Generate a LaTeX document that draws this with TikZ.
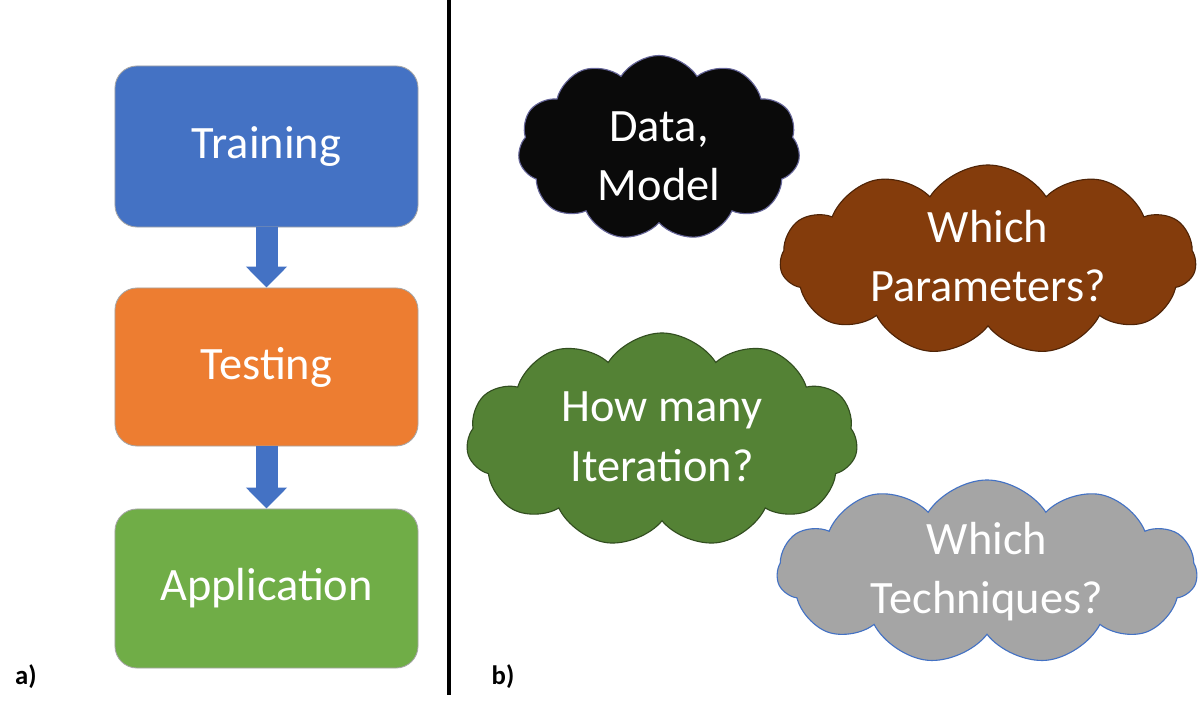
\documentclass[tikz,border=0pt]{standalone}
\usepackage{fontspec}
\setmainfont{Carlito}
\usetikzlibrary{shapes.symbols,arrows.meta}
\definecolor{cblue}{HTML}{4472C4}
\definecolor{corange}{HTML}{ED7D31}
\definecolor{cgreen}{HTML}{70AD47}
\definecolor{cblack}{HTML}{0A0A0A}
\definecolor{cbrown}{HTML}{843C0C}
\definecolor{cdgreen}{HTML}{548235}
\definecolor{cgray}{HTML}{A5A5A5}
\tikzset{
  stagebox/.style={rectangle, rounded corners=0.55cm, minimum width=7.575cm, draw=gray!70, line width=0.6pt, text=white, font=\fontsize{33}{43}\selectfont, inner sep=0pt},
  flowarrow/.style={draw=cblue, line width=0.55cm, -{Triangle[width=1cm,length=0.525cm]}, shorten >=0pt},
  cloudbox/.style={cloud, cloud puffs=11, cloud puff arc=115, cloud ignores aspect, draw=#1, line width=0.8pt, inner sep=0pt},
  cloudtext/.style={text=white, align=center, font=\fontsize{33}{42}\selectfont},
  panellabel/.style={font=\bfseries\fontsize{19}{21}\selectfont, text=black}
}
\begin{document}
\begin{tikzpicture}[x=0.025cm,y=-0.025cm]
\useasboundingbox (0,0) rectangle (1200,701);
\fill[white] (0,0) rectangle (1200,701);
% left panel
\node[stagebox, fill=cblue, minimum height=4.025cm] (train) at (266.5,146.5) {Training};
\node[stagebox, fill=corange, minimum height=3.95cm] (test) at (266.5,367) {Testing};
\node[stagebox, fill=cgreen, minimum height=3.975cm] (app) at (266.5,588.5) {Application};
\draw[flowarrow] (train.south) -- (test.north);
\draw[flowarrow] (test.south) -- (app.north);
\node[panellabel] (la) at (26,677) {a)};
% divider
\coordinate (dtop) at (449,0);
\coordinate (dbot) at (449,695);
\draw[line width=0.1cm, black] (dtop) -- (dbot);
\node[panellabel] (lb) at (503,677) {b)};
% right panel clouds
\node[cloudbox=gray!80!blue, fill=cblack, minimum width=7.05cm, minimum height=4.625cm,
  label={[cloudtext, yshift=-0.2cm]center:Data,\\Model}] (data) at (659,148) {};
\node[cloudbox=cbrown!60!black, fill=cbrown, minimum width=10.4cm, minimum height=4.75cm,
  label={[cloudtext, yshift=0.1cm]center:Which\\Parameters?}] (params) at (988,260) {};
\node[cloudbox=cdgreen!60!black, fill=cdgreen, minimum width=9.78cm, minimum height=5.35cm,
  label={[cloudtext, yshift=0.08cm]center:How many\\Iteration?}] (iter) at (662,440) {};
\node[cloudbox=cblue, fill=cgray, minimum width=10.5cm, minimum height=4.6cm,
  label={[cloudtext]center:Which\\Techniques?}] (tech) at (987,572) {};
\end{tikzpicture}
\end{document}
